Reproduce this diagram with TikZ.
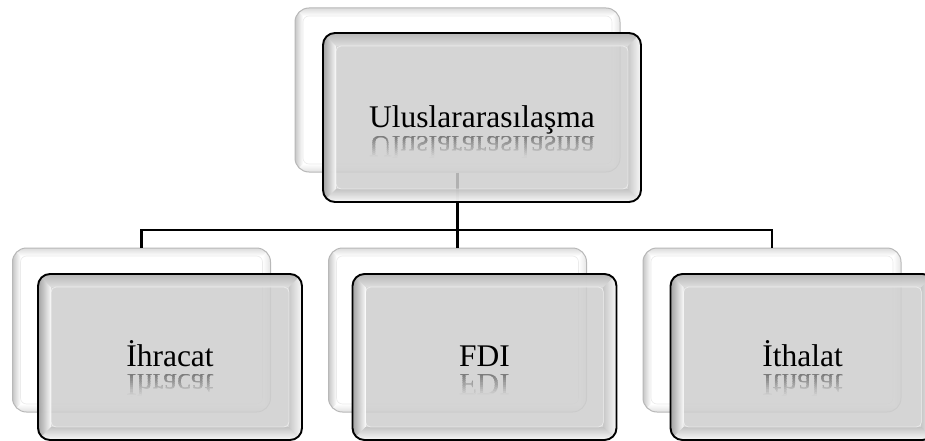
\documentclass[tikz,border=0pt]{standalone}
\usepackage{fontspec}
\setmainfont{Liberation Serif}
\usetikzlibrary{calc}

\definecolor{boxgray}{RGB}{207,207,207}
\definecolor{facegray}{RGB}{214,214,214}
\newcommand\boxfont{\fontsize{31.5}{36}\selectfont}

% Mirrored copy of a label, fading out downwards in thin strips
\newcommand\mirrorlabel[3]{% #1 source label node, #2 prefix for names, #3 text
  \foreach \k in {0,...,9}{%
    \pgfmathsetmacro\pct{42-4.4*\k}%
    \begin{scope}
      \clip ($(#1.base)+(-170,8+2.2*\k)$) rectangle ($(#1.base)+(170,10.2+2.2*\k)$);
      \begin{scope}[shift={($(#1.base)+(0,8)$)},yscale=-1]
        \node[anchor=base,transform shape,inner sep=0pt,font=\boxfont,
              text=black!\pct!facegray] (#2-\k) at (0,0) {#3};
      \end{scope}
    \end{scope}}}

\begin{document}
\begin{tikzpicture}[x=1pt,y=-1pt,
  backbox/.style={rounded corners=14pt, draw=black!28, line width=1pt, fill=white,
    minimum width=258pt, minimum height=164pt, inner sep=0pt,
    path picture={
      \path (path picture bounding box.north west) coordinate (pnw)
            (path picture bounding box.north east) coordinate (pne)
            (path picture bounding box.south west) coordinate (psw)
            (path picture bounding box.south east) coordinate (pse);
      \begin{scope}[sharp corners]
        \shade[left color=black!22, right color=white]
          (pnw) -- ($(pnw)+(8,8)$) -- ($(psw)+(8,-8)$) -- (psw) -- cycle;
        \shade[top color=black!14, bottom color=white]
          (pnw) -- (pne) -- ($(pne)+(-8,8)$) -- ($(pnw)+(8,8)$) -- cycle;
        \shade[left color=white, right color=black!10]
          (pne) -- (pse) -- ($(pse)+(-8,-8)$) -- ($(pne)+(-8,8)$) -- cycle;
        \shade[top color=white, bottom color=black!12]
          (psw) -- ($(psw)+(8,-8)$) -- ($(pse)+(-8,-8)$) -- (pse) -- cycle;
        \draw[black!8, line width=0.6pt, rounded corners=6pt]
          ($(pnw)+(8,8)$) rectangle ($(pse)+(-8,-8)$);
      \end{scope}}},
  frontbox/.style={rounded corners=12pt, draw=black, line width=1.9pt,
    fill=boxgray, fill opacity=0.86, draw opacity=1,
    minimum width=264pt, minimum height=166pt, inner sep=0pt,
    path picture={
      \path (path picture bounding box.north west) coordinate (pnw)
            (path picture bounding box.north east) coordinate (pne)
            (path picture bounding box.south west) coordinate (psw)
            (path picture bounding box.south east) coordinate (pse);
      \begin{scope}[sharp corners, fill opacity=0.86]
        \shade[left color=black!40, right color=white]
          (pnw) -- ($(pnw)+(13,13)$) -- ($(psw)+(13,-13)$) -- (psw) -- cycle;
        \shade[top color=black!30, bottom color=black!12]
          (pnw) -- (pne) -- ($(pne)+(-13,13)$) -- ($(pnw)+(13,13)$) -- cycle;
        \shade[left color=black!22, right color=white]
          (pne) -- (pse) -- ($(pse)+(-13,-13)$) -- ($(pne)+(-13,13)$) -- cycle;
        \shade[top color=black!24, bottom color=white]
          (psw) -- ($(psw)+(13,-13)$) -- ($(pse)+(-13,-13)$) -- (pse) -- cycle;
        \draw[white, draw opacity=0.5, line width=0.8pt, rounded corners=5pt]
          ($(pnw)+(13,13)$) rectangle ($(pse)+(-13,-13)$);
      \end{scope}}},
  link/.style={draw=black, line width=2.2pt},
  label/.style={anchor=base, inner sep=0pt, font=\boxfont, text=black}]

\useasboundingbox (0,0) rectangle (925,441);
\fill[white] (0,0) rectangle (925,441);

% back plates
\node[backbox, minimum width=325pt] (topback) at (457.5,90) {};
\node[backbox] (lback) at (141.5,330) {};
\node[backbox] (mback) at (457.5,330) {};
\node[backbox] (rback) at (772,330) {};

% tree connectors
\coordinate (hub) at (457.5,230);
\draw[link] (topback.south) -- (hub);
\draw[link] (hub) -| (lback.north);
\draw[link] (hub) -- (mback.north);
\draw[link] (hub) -| (rback.north);

% front plates
\node[frontbox, minimum width=318pt, minimum height=169pt] (topfront) at (482,117.5) {};
\node[frontbox] (lfront) at (170,357) {};
\node[frontbox] (mfront) at (484.5,357) {};
\node[frontbox] (rfront) at (802.5,357) {};

% labels and their reflections
\node[label] (toptext) at ([yshift=-10.5pt]topfront.center) {Uluslararasılaşma};
\node[label] (ltext) at ([yshift=-9.5pt]lfront.center) {İhracat};
\node[label] (mtext) at ([yshift=-9pt]mfront.center) {FDI};
\node[label] (rtext) at ([yshift=-9.5pt]rfront.center) {İthalat};

\mirrorlabel{toptext}{topmirror}{Uluslararasılaşma}
\mirrorlabel{ltext}{lmirror}{İhracat}
\mirrorlabel{mtext}{mmirror}{FDI}
\mirrorlabel{rtext}{rmirror}{İthalat}
\end{tikzpicture}
\end{document}
